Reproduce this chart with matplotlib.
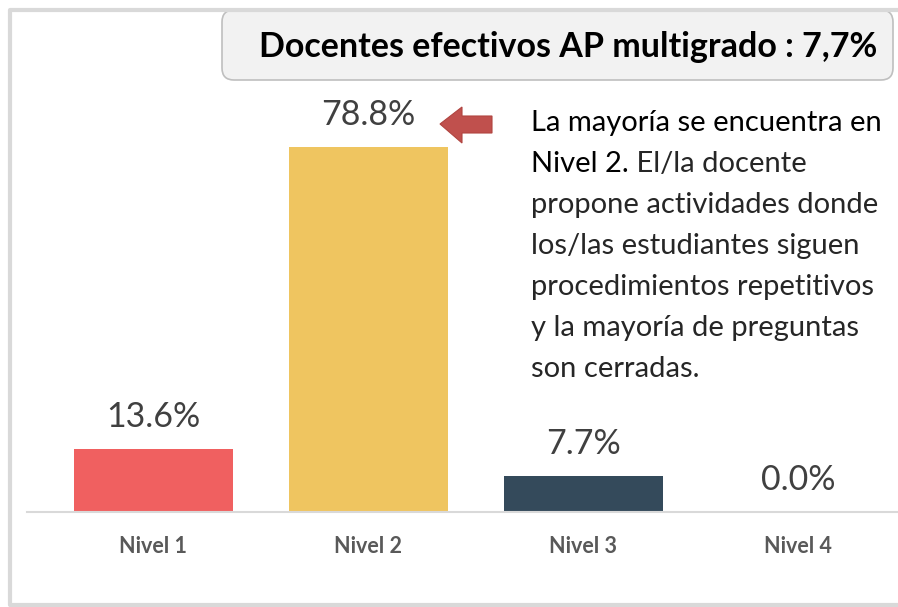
import numpy as np
import matplotlib.pyplot as plt
from matplotlib.patches import FancyBboxPatch, Polygon
from matplotlib.lines import Line2D
from matplotlib.transforms import IdentityTransform

categories = ['Nivel 1', 'Nivel 2', 'Nivel 3', 'Nivel 4']
values = [13.6, 78.8, 7.7, 0.0]
colors = ['#F06060', '#EFC560', '#344A5B', '#A5A5A5']
title = 'Docentes efectivos AP multigrado : 7,7%'

W, H = 898, 607
plt.rcParams['font.family'] = ['Lato', 'DejaVu Sans']

fig = plt.figure(figsize=(W / 100, H / 100), dpi=100)


def px(x, y):
    # pixel position measured from the top-left corner -> display coords
    return x, H - y


# outer frame: left, top and bottom only (right side runs off the picture)
(fx0, fy0), (fx1, fy1) = px(10, 10), px(W + 20, 605)
fig.add_artist(Line2D([fx1, fx0, fx0, fx1], [fy0, fy0, fy1, fy1], color='#D9D9D9',
                      linewidth=3, transform=IdentityTransform()))

ax = fig.add_axes([27 / W, (H - 512) / H, (W - 27) / W, 463 / H])
x = np.arange(len(categories))
bars = ax.bar(x, values, width=0.74, color=colors, zorder=2)
ax.set_xlim(-0.588, 3.465)
ax.set_ylim(0, 100)

for b, v in zip(bars, values):
    ax.annotate(f'{v:.1f}%', (b.get_x() + b.get_width() / 2, v),
                xytext=(0, 16), textcoords='offset points',
                ha='center', va='baseline', fontsize=24.5, color='#404040')

for s in ['top', 'right', 'left']:
    ax.spines[s].set_visible(False)
ax.spines['bottom'].set_color('#D9D9D9')
ax.spines['bottom'].set_linewidth(1.5)
ax.set_yticks([])
ax.set_xticks(x)
ax.set_xticklabels(categories, fontsize=15.5, fontweight='bold', color='#595959')
ax.tick_params(axis='x', length=0, pad=17)

# title box
x0, y0 = px(222, 80)
fig.add_artist(FancyBboxPatch((x0, y0), 671, 70, boxstyle='round,pad=0,rounding_size=12',
                              facecolor='#F2F2F2', edgecolor='#BFBFBF', linewidth=1.2,
                              transform=IdentityTransform()))
fig.text(568 / W, 1 - 47 / H, title, ha='center', va='center', fontsize=24.5,
         fontweight='bold', color='black')

# arrow
pts = [px(440, 124), px(462, 107), px(462, 116), px(492, 116),
       px(492, 133), px(462, 133), px(462, 143)]
fig.add_artist(Polygon(pts, closed=True, facecolor='#C0504D', edgecolor='#B04440',
                       linewidth=0.8, transform=IdentityTransform()))

# annotation text
fs = 21
lx = 531 / W
lines = ['propone actividades donde', 'los/las estudiantes siguen',
         'procedimientos repetitivos', 'y la mayoría de preguntas', 'son cerradas.']
fig.text(lx, 1 - 123 / H, 'La mayoría se encuentra en', ha='left', va='center',
         fontsize=fs, color='black')
t2 = fig.text(lx, 1 - 164 / H, 'Nivel 2.', ha='left', va='center', fontsize=fs, color='black')
r = fig.canvas.get_renderer()
bb = t2.get_window_extent(renderer=r)
fig.text(bb.x1 / W, 1 - 164 / H, ' El/la docente', ha='left', va='center',
         fontsize=fs, color='#262626')
for i, ln in enumerate(lines):
    fig.text(lx, 1 - (205 + 41 * i) / H, ln, ha='left', va='center',
             fontsize=fs, color='#262626')

fig.savefig('out.png', dpi=100)
